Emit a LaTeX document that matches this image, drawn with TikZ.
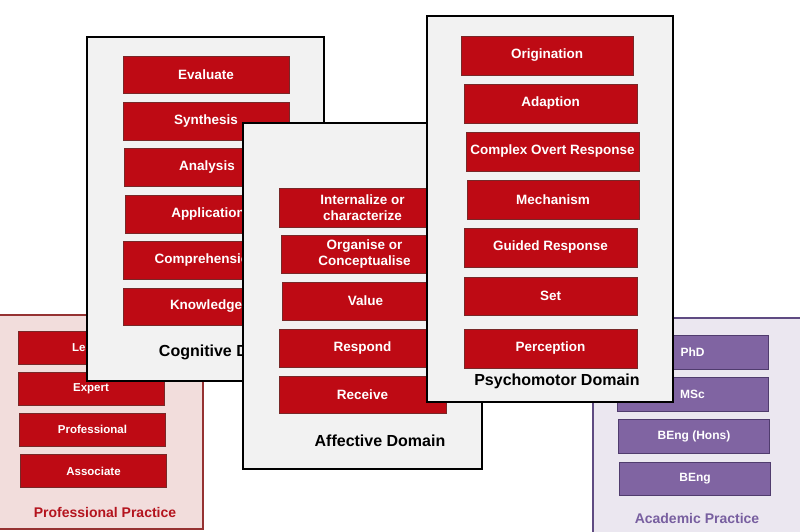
\documentclass[tikz,border=0pt]{standalone}
\usepackage{fontspec}
\setmainfont{Liberation Sans}
\definecolor{redbox}{RGB}{190,10,20}
\definecolor{redline}{RGB}{120,40,40}
\definecolor{panelgray}{RGB}{242,242,242}
\definecolor{proffill}{RGB}{242,221,220}
\definecolor{profline}{RGB}{150,50,50}
\definecolor{proftitle}{RGB}{180,20,30}
\definecolor{acadfill}{RGB}{235,231,240}
\definecolor{acadline}{RGB}{95,75,130}
\definecolor{purplebox}{RGB}{128,100,162}
\definecolor{purpleline}{RGB}{80,60,110}
\definecolor{acadtitle}{RGB}{120,95,160}
\tikzset{
  every node/.style={inner sep=0pt, outer sep=0pt},
  domainpanel/.style={draw=black, line width=2.5pt, fill=panelgray, rectangle},
  profpanel/.style={draw=profline, line width=2pt, fill=proffill, rectangle},
  acadpanel/.style={draw=acadline, line width=2pt, fill=acadfill, rectangle},
  rbox/.style={draw=redline, line width=0.7pt, fill=redbox, text=white, font=\bfseries\fontsize{13.5}{16}\selectfont, align=center, minimum height=38pt},
  pbox/.style={draw=redline, line width=0.7pt, fill=redbox, text=white, font=\bfseries\fontsize{11.5}{14}\selectfont, minimum width=146pt, minimum height=33pt},
  abox/.style={draw=purpleline, line width=0.7pt, fill=purplebox, text=white, font=\bfseries\fontsize{12}{14}\selectfont, minimum width=151pt, minimum height=34pt},
  domtitle/.style={text=black, font=\bfseries\fontsize{16}{18}\selectfont},
  practitle/.style={font=\bfseries\fontsize{14}{16}\selectfont},
}
\begin{document}
\begin{tikzpicture}[x=1pt,y=-1pt]
\useasboundingbox (0,0) rectangle (800,531);
\clip (0,0) rectangle (800,531);
\fill[white] (0,0) rectangle (800,531);

% Professional Practice
\node[profpanel, minimum width=208pt, minimum height=214pt] (prof) at (99,422) {};
\node[pbox] (leader) at (91,347.5) {Leader};
\node[pbox] (expert) at (91,388.5) {Expert};
\node[pbox] (professional) at (92.5,429.5) {Professional};
\node[pbox] (associate) at (93.5,471) {Associate};
\node[practitle, text=proftitle] (proftitle) at (105,512) {Professional Practice};

% Academic Practice
\node[acadpanel, minimum width=213pt, minimum height=227pt] (acad) at (699.5,431.5) {};
\node[abox] (phd) at (692.5,352) {PhD};
\node[abox] (msc) at (692.5,394) {MSc};
\node[abox] (bengh) at (694,436) {BEng (Hons)};
\node[abox, minimum height=33pt] (beng) at (695,478.5) {BEng};
\node[practitle, text=acadtitle] (acadtitletext) at (697,518) {Academic Practice};

% Cognitive Domain
\node[domainpanel, minimum width=237pt, minimum height=344pt] (cog) at (205.5,209) {};
\node[rbox, minimum width=166pt, minimum height=37pt] (evaluate) at (206,74.5) {Evaluate};
\node[rbox, minimum width=166pt] (synthesis) at (206,121) {Synthesis};
\node[rbox, minimum width=166pt] (analysis) at (207,167) {Analysis};
\node[rbox, minimum width=166pt] (application) at (208,214) {Application};
\node[rbox, minimum width=166pt] (comprehension) at (206,260) {Comprehension};
\node[rbox, minimum width=166pt, minimum height=37pt] (knowledge) at (206,306.5) {Knowledge};
\node[domtitle] (cogtitle) at (227,352) {Cognitive Domain};

% Affective Domain
\node[domainpanel, minimum width=239pt, minimum height=346pt] (aff) at (362.5,296) {};
\node[rbox, minimum width=167pt, minimum height=39pt] (internalize) at (362.5,207.5) {Internalize or\\characterize};
\node[rbox, minimum width=167pt] (organise) at (364.5,254) {Organise or\\Conceptualise};
\node[rbox, minimum width=167pt] (value) at (365.5,301) {Value};
\node[rbox, minimum width=167pt] (respond) at (362.5,348) {Respond};
\node[rbox, minimum width=167pt, minimum height=37pt] (receive) at (362.5,394.5) {Receive};
\node[domtitle] (afftitle) at (380,441) {Affective Domain};

% Psychomotor Domain
\node[domainpanel, minimum width=246pt, minimum height=386pt] (psy) at (550,209) {};
\node[rbox, minimum width=172pt, minimum height=39pt] (origination) at (547,55.5) {Origination};
\node[rbox, minimum width=173pt, minimum height=39pt] (adaption) at (550.5,103.5) {Adaption};
\node[rbox, minimum width=173pt, minimum height=39pt] (complex) at (552.5,151.5) {Complex Overt Response};
\node[rbox, minimum width=172pt, minimum height=39pt] (mechanism) at (553,199.5) {Mechanism};
\node[rbox, minimum width=173pt, minimum height=39pt] (guided) at (550.5,247.5) {Guided Response};
\node[rbox, minimum width=173pt] (set) at (550.5,296) {Set};
\node[rbox, minimum width=173pt, minimum height=39pt] (perception) at (550.5,348.5) {Perception};
\node[domtitle] (psytitle) at (557,381) {Psychomotor Domain};
\end{tikzpicture}
\end{document}
